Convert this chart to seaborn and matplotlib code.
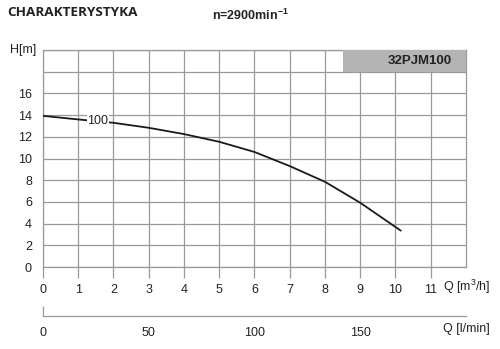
import matplotlib
matplotlib.use("Agg")
import matplotlib.pyplot as plt
import seaborn as sns
import pandas as pd
from matplotlib.patches import Rectangle

# ---- data ----
q_m3h = [0, 1, 2, 3, 4, 5, 6, 7, 8, 9, 10.15]
head_m = [13.93, 13.6, 13.29, 12.83, 12.25, 11.54, 10.6, 9.3, 7.85, 5.92, 3.35]
x_ticks = list(range(0, 12))
y_ticks = list(range(0, 21, 2))
y_tick_labels = [str(v) for v in range(0, 17, 2)] + ["", ""]
lmin_ticks = [0, 50, 100, 150]
model = "32PJM100"
curve_label = "100"

sns.set_theme(style="white")
plt.rcParams['font.family'] = ['Liberation Sans', 'DejaVu Sans']
plt.rcParams['mathtext.fontset'] = 'custom'
plt.rcParams['mathtext.rm'] = 'Liberation Sans'
plt.rcParams['mathtext.bf'] = 'Liberation Sans:bold'

grid_c = "#9a9a9a"
txt_c = "#222222"
fig = plt.figure(figsize=(5.0, 3.49), dpi=100)
ax = fig.add_axes([43/500, 1-267/349, 423/500, 217/349])

df = pd.DataFrame({"Q": q_m3h, "H": head_m})
sns.lineplot(data=df, x="Q", y="H", ax=ax, color="#1a1a1a", lw=1.3, zorder=4)

ax.set_xlim(0, 12)
ax.set_ylim(0, 20)
ax.set_xticks(x_ticks)
ax.set_xticklabels([str(v) for v in x_ticks])
ax.set_yticks(y_ticks)
ax.set_yticklabels(y_tick_labels)
ax.grid(True, color=grid_c, lw=0.9, zorder=1)
ax.set_axisbelow(True)
for s in ax.spines.values():
    s.set_color(grid_c)
    s.set_linewidth(0.9)
ax.tick_params(axis='x', length=8, width=0.9, color=grid_c, pad=4, labelsize=9, labelcolor=txt_c, direction='out', bottom=True)
ax.tick_params(axis='y', length=0, pad=8, labelsize=9, labelcolor=txt_c)
ax.set_xlabel("")
ax.set_ylabel("")

# model box
ax.add_patch(Rectangle((8.51, 18), 3.49, 2, facecolor="#b4b4b4", edgecolor="none", zorder=3, clip_on=False))
ax.text(11.6, 19.0, model, ha="right", va="center", fontsize=9.5, fontweight="bold", color=txt_c, zorder=5)

# curve label
ax.text(1.56, 13.45, curve_label, ha="center", va="center", fontsize=9, color=txt_c,
        bbox=dict(facecolor="white", edgecolor="none", pad=0.5), zorder=5)

ax.text(-0.95, 20.0, "H[m]", ha="left", va="center", fontsize=9, color=txt_c)
fig.text(443/500, 1-287/349, r"Q [m$^3$/h]", ha="left", va="center", fontsize=9, color=txt_c)

# second axis (l/min)
ax2 = fig.add_axes([43/500, 1-315.7/349, 423/500, 0.001])
ax2.set_xlim(0, 200)
ax2.set_ylim(0, 1)
ax2.set_xticks(lmin_ticks)
ax2.set_xticklabels([str(v) for v in lmin_ticks])
ax2.set_yticks([])
for k, s in ax2.spines.items():
    s.set_visible(k == "bottom")
ax2.spines["bottom"].set_color(grid_c)
ax2.spines["bottom"].set_linewidth(0.9)
ax2.tick_params(axis='x', which='major', bottom=True, direction='in', length=7, width=0.9,
                color=grid_c, pad=8, labelsize=9, labelcolor=txt_c)
for i, t in enumerate(ax2.xaxis.get_major_ticks()):
    t.tick1line.set_visible(i == 0)
ax2.patch.set_alpha(0)
fig.text(443/500, 1-329/349, "Q [l/min]", ha="left", va="center", fontsize=9, color=txt_c)

fig.text(7/500, 1-12/349, "CHARAKTERYSTYKA", ha="left", va="center", fontsize=9.7, fontweight="bold",
         family=["Open Sans", "DejaVu Sans"], color=txt_c)
fig.text(212/500, 1-15/349, r"n=2900min$^{\mathbf{-1}}$", ha="left", va="center", fontsize=9,
         fontweight="bold", color=txt_c)

fig.savefig("out.png", dpi=100)
